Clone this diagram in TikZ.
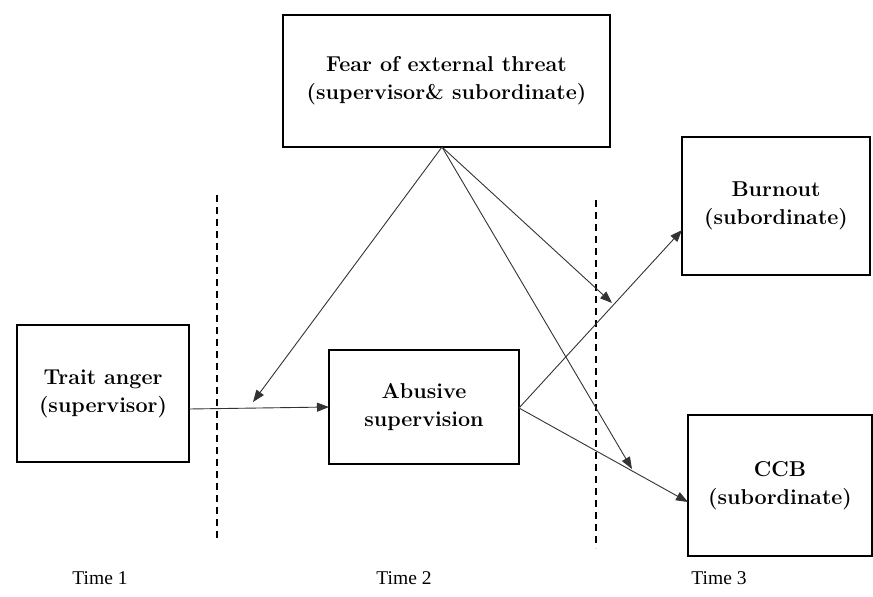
\documentclass[tikz,border=0pt]{standalone}
\usepackage{fontspec}
\newfontfamily\timefont{Liberation Serif}
\usetikzlibrary{arrows.meta}
\begin{document}
\begin{tikzpicture}[x=1pt,y=-1pt,
  box/.style={draw=black,line width=1.6pt,minimum width=#1,inner sep=0pt,align=center,
    font=\fontsize{21.5}{28}\selectfont\bfseries},
  conn/.style={draw=black!80,line width=0.9pt,-{Triangle[length=12pt,width=9pt]}},
  sep/.style={draw=black,line width=1.5pt,dash pattern=on 7pt off 5pt},
  timelab/.style={font=\timefont\fontsize{19.5}{22}\selectfont}]
\useasboundingbox (0,0) rectangle (873,597);
\node[box=327pt,minimum height=132pt] (fear) at (446.5,81) {Fear of external threat\\(supervisor\& subordinate)};
\node[box=188pt,minimum height=138pt] (burn) at (776,206) {Burnout\\(subordinate)};
\node[box=172pt,minimum height=137pt] (trait) at (103,393.5) {Trait anger\\(supervisor)};
\node[box=190pt,minimum height=114pt] (abus) at (424,407) {Abusive\\supervision};
\node[box=184pt,minimum height=141pt] (ccb) at (780,485.5) {CCB\\(subordinate)};
\coordinate (d1a) at (217,195); \coordinate (d1b) at (217,541);
\coordinate (d2a) at (596,200); \coordinate (d2b) at (596,548);
\draw[sep] (d1a) -- (d1b);
\draw[sep] (d2a) -- (d2b);
\coordinate (f0) at (442,147);
\coordinate (m1) at (253,402);
\coordinate (m2) at (612,303);
\coordinate (m3) at (632,469);
\coordinate (a0) at (519,408);
\coordinate (bt) at (682,230);
\coordinate (ct) at (688,502);
\coordinate (ts) at (189,409);
\coordinate (te) at (329,407);
\draw[conn] (ts) -- (te);
\draw[conn] (f0) -- (m1);
\draw[conn] (f0) -- (m2);
\draw[conn] (f0) -- (m3);
\draw[conn] (a0) -- (bt);
\draw[conn] (a0) -- (ct);
\node[timelab] (t1) at (100,578) {Time 1};
\node[timelab] (t2) at (404,578) {Time 2};
\node[timelab] (t3) at (719,578) {Time 3};
\end{tikzpicture}
\end{document}
